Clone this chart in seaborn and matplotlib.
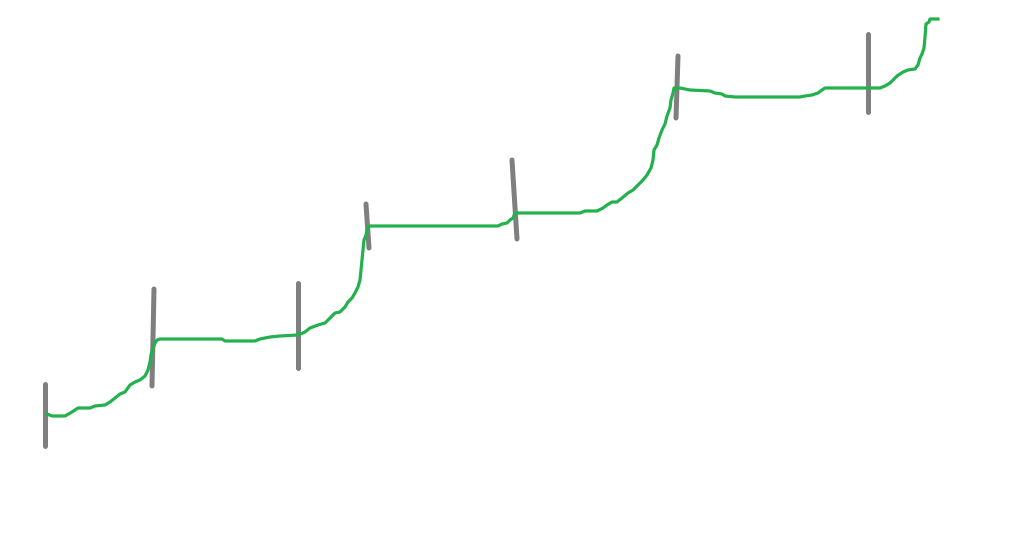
import pandas as pd
import matplotlib
matplotlib.use("Agg")
import matplotlib.pyplot as plt
import seaborn as sns

# green sketch line (x to the right, y downwards)
line_x = [47, 52, 65, 72, 78, 90, 95, 105, 110, 115, 120, 125, 130, 135, 140, 145, 148, 150, 151, 153,
          155, 157, 160, 192, 222, 225, 255, 260, 270, 280, 298, 305, 310, 318, 325, 330, 335, 340, 345, 348,
          352, 355, 358, 360, 361, 362, 363, 364, 366, 368, 370, 400, 498, 502, 507, 510, 513, 515, 580, 585,
          597, 603, 607, 612, 617, 622, 628, 633, 638, 643, 647, 651, 653, 654, 657, 659, 662, 665, 667, 670,
          671, 673, 674, 680, 690, 710, 715, 722, 725, 735, 800, 805, 812, 818, 822, 825, 880, 885, 890, 893,
          897, 903, 908, 915, 918, 920, 922, 924, 925, 925, 926, 929, 930, 938]
line_y = [414, 416, 416, 412, 408, 408, 406, 405, 402, 398, 394, 392, 385, 382, 380, 376, 370, 362, 355, 348,
          343, 340, 339, 339, 339, 341, 341, 339, 337, 336, 335, 332, 328, 325, 323, 318, 313, 312, 307, 302,
          298, 293, 287, 280, 270, 260, 250, 240, 235, 227, 226, 226, 226, 224, 223, 220, 218, 213, 213, 211,
          211, 208, 205, 202, 202, 198, 193, 190, 185, 180, 175, 168, 160, 150, 145, 138, 130, 124, 116, 108,
          100, 93, 88, 88, 90, 91, 93, 94, 96, 97, 97, 96, 95, 93, 90, 88, 88, 86, 83, 80,
          76, 72, 70, 69, 65, 58, 54, 48, 44, 30, 24, 22, 19, 19]

# gray vertical marks: start and end of each stroke
bar_x0 = [45, 154, 298, 366, 512, 678, 868]
bar_y0 = [384, 289, 283, 204, 160, 56, 34]
bar_x1 = [45, 152, 298, 369, 517, 676, 868]
bar_y1 = [446, 386, 368, 248, 239, 118, 112]

df = pd.DataFrame({"x": line_x, "y": line_y})

fig = plt.figure(figsize=(10.32, 5.4), dpi=100)
ax = fig.add_axes([0, 0, 1, 1])

for x0, y0, x1, y1 in zip(bar_x0, bar_y0, bar_x1, bar_y1):
    ax.plot([x0, x1], [y0, y1], color="#7f7f7f", lw=3.6, solid_capstyle="round", zorder=2)

sns.lineplot(data=df, x="x", y="y", sort=False, color="#22b14c", lw=2.3, ax=ax, zorder=3)

ax.set_xlim(0, 1032)
ax.set_ylim(540, 0)
ax.axis("off")

fig.savefig("out.png", dpi=100, facecolor="white")
